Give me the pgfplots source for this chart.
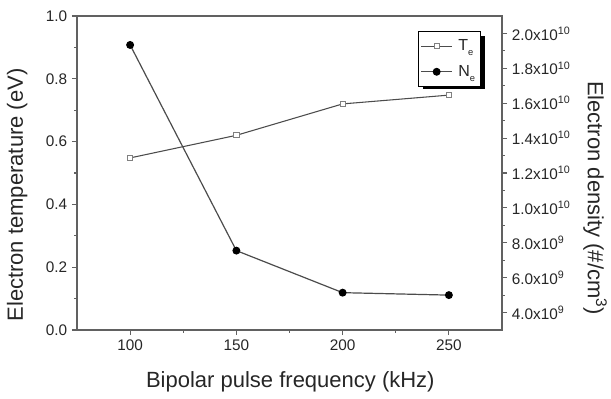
\documentclass[border=0pt]{standalone}
\usepackage{pgfplots}
\pgfplotsset{compat=1.18}
\usepackage{fontspec}
\setmainfont{Liberation Sans}
\definecolor{axgray}{gray}{0.38}
\definecolor{txtgray}{gray}{0.15}
\definecolor{tegray}{gray}{0.30}
\definecolor{negray}{gray}{0.30}
\definecolor{markgray}{gray}{0.50}

\pgfplotsset{
  common/.style={
    at={(57.75pt,51.75pt)}, anchor=south west,
    scale only axis, width=318.75pt, height=235.5pt,
    xmin=75, xmax=275,
    tick align=outside,
    major tick length=3.8pt, minor tick length=2.2pt,
    every tick/.style={axgray, line width=0.9pt},
    axis line style={axgray, line width=1.2pt},
    /pgf/number format/assume math mode=true,
    tick label style={font=\fontsize{11.5}{13}\selectfont, text=txtgray},
    label style={font=\fontsize{16.5}{18}\selectfont, text=txtgray},
  },
  testyle/.style={tegray, line width=0.8pt, mark=square*, mark size=1.9pt,
    mark options={fill=white, draw=markgray, line width=0.6pt}},
  nestyle/.style={negray, line width=0.9pt, mark=*, mark size=2.5pt,
    mark options={fill=black, draw=black}},
}
\newcommand{\sub}[1]{\raisebox{-0.6ex}{\fontsize{7}{8}\selectfont #1}}

\begin{document}
\begin{tikzpicture}
\useasboundingbox (0,0) rectangle (458.25pt,299.25pt);
\begin{axis}[
  common,
  ymin=0, ymax=1,
  xtick pos=bottom, ytick pos=left,
  xtick={100,150,200,250},
  minor xtick={125,175,225},
  ytick={0,0.2,0.4,0.6,0.8,1.0},
  minor ytick={0.1,0.3,0.5,0.7,0.9},
  yticklabel style={/pgf/number format/.cd, fixed, fixed zerofill, precision=1},
  xlabel={Bipolar pulse frequency (kHz)},
  ylabel={Electron temperature (eV)},
  xlabel style={at={(axis description cs:0.502,-0.166)}, anchor=center},
  ylabel style={at={(axis description cs:-0.141,0.43)}, anchor=center, rotate=0},
]
\addplot[testyle] coordinates {(100,0.548) (150,0.620) (200,0.720) (250,0.748)};
\end{axis}
\begin{axis}[
  common,
  ymin=3, ymax=21,
  axis x line=none,
  axis y line*=right,
  ytick={4,6,8,10,12,14,16,18,20},
  yticklabels={{4.0x10\textsuperscript{9}},{6.0x10\textsuperscript{9}},{8.0x10\textsuperscript{9}},
    {1.0x10\textsuperscript{10}},{1.2x10\textsuperscript{10}},{1.4x10\textsuperscript{10}},
    {1.6x10\textsuperscript{10}},{1.8x10\textsuperscript{10}},{2.0x10\textsuperscript{10}}},
  minor ytick={5,7,9,11,13,15,17,19},
  ylabel={Electron density (\#/cm\textsuperscript{3})},
  ylabel style={at={(axis description cs:1.219,0.42)}, anchor=center, rotate=180},
  legend style={at={(axis description cs:0.8016,0.952)}, anchor=north west,
    draw=black, line width=0.8pt, fill=white,
    font=\fontsize{12}{13}\selectfont, text=txtgray,
    row sep=5.5pt, inner xsep=2pt, inner ysep=4pt},
  legend cell align=left,
  legend image code/.code={\draw[mark repeat=2, mark phase=2, #1] plot coordinates {(0cm,0cm) (0.4cm,0cm) (0.8cm,0cm)};},
]
\fill[black] (rel axis cs:0.814,0.935) rectangle (rel axis cs:0.960,0.768);
\addlegendimage{testyle}
\addlegendentry{\hspace{2.5pt}T\sub{e}}
\addplot[nestyle] coordinates {(100,19.34) (150,7.55) (200,5.14) (250,5.0)};
\addlegendentry{\hspace{2.5pt}N\sub{e}}
\end{axis}
\end{tikzpicture}
\end{document}
